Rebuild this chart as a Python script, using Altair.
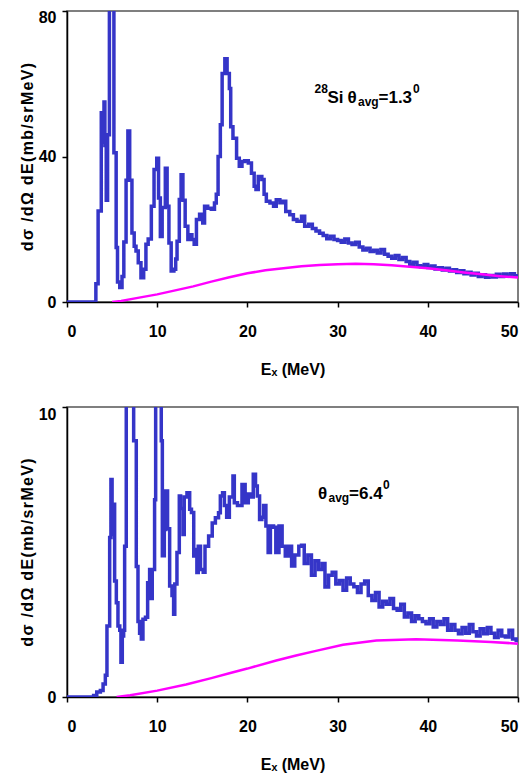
import altair as alt
import pandas as pd

FONT = "Liberation Sans, Arial, sans-serif"
BLUE = "#3535c8"
MAGENTA = "#ff00ff"

# ---------------- top panel (28Si, 1.3 deg) ----------------
top_blue_E = [0, 3.2, 3.45, 3.8, 3.95, 4.1, 4.2, 4.35, 4.5, 4.7, 5.2, 5.45, 5.6, 5.85, 6.1, 6.3,
              6.55, 6.75, 6.95, 7.2, 7.45, 7.65, 7.9, 8.2, 8.5, 8.75, 9.0, 9.35, 9.65, 9.95, 10.15,
              10.35, 10.55, 10.9, 11.1, 11.3, 11.55, 11.85, 12.05, 12.2, 12.45, 12.65, 12.85, 13.1,
              13.4, 13.65, 13.85, 14.1, 14.35, 14.7, 15.05, 15.25, 15.6, 16.0, 16.35, 16.55, 16.75,
              17.0, 17.2, 17.5, 17.75, 18.0, 18.15, 18.4, 18.8, 19.1, 19.4, 19.7, 20.1, 20.45, 20.75,
              20.95, 21.2, 21.6, 21.85, 22.1, 22.5, 22.9, 23.2, 23.6, 23.95, 24.25, 24.7, 25.1, 25.5,
              26.0, 26.35, 26.8, 27.2, 27.6, 28.0, 28.4, 28.8, 29.2, 29.6, 30.0, 30.4, 30.8, 31.2,
              31.6, 32.0, 32.4, 32.8, 33.2, 33.6, 34.0, 34.4, 34.8, 35.2, 35.6, 36.0, 36.4, 36.8,
              37.2, 37.6, 38.0, 38.4, 38.8, 39.2, 39.6, 40.0, 40.4, 40.8, 41.2, 41.6, 42.0, 42.4,
              42.8, 43.2, 43.6, 44.0, 44.4, 44.8, 45.2, 45.6, 46.0, 46.4, 46.8, 47.2, 47.6, 48.0,
              48.4, 48.8, 49.2, 49.6, 50.0]
top_blue_v = [0, 5, 25, 52, 44, 55, 43, 28, 46, 95, 41, 15, 5.5, 4, 7, 16.5,
              33.5, 47, 33.5, 19, 15.3, 14, 10.8, 6.7, 9, 15.9, 17.3, 26.3, 36.4, 39.5, 28.6,
              18, 26, 36.8, 26.3, 16.2, 8.5, 9, 11.8, 16.7, 28.2, 35, 28, 20.8,
              17.2, 18.5, 17.2, 15.9, 22.7, 24.1, 21.7, 26.3, 25.8, 25.5, 27.2, 29.6, 40,
              48.7, 62.8, 66.9, 62.8, 58.7, 48.2, 45, 39.5, 37.3, 38.6, 38.8, 38.2, 35.4, 31.8,
              30.9, 34.5, 33.7, 29.6, 27.7, 27.2, 26.3, 28.1, 27.3, 27.7, 24.9, 24, 22.7, 22.2,
              23.6, 20.8, 21.4, 20.2, 19.5, 18.9, 18.3, 17.4, 18.1, 17.2, 16.9, 16.4, 17.3, 16.2,
              15.8, 16.4, 15.1, 14.3, 14.8, 13.9, 14.2, 13.5, 14.4, 13.1, 12.6, 12.0, 12.8, 11.7,
              12.2, 11.1, 10.4, 10.9, 10.0, 9.7, 10.3, 9.5, 9.9, 9.1, 9.4, 8.8, 9.3, 8.5,
              8.9, 8.1, 8.6, 7.8, 8.2, 7.4, 7.9, 7.0, 7.5, 6.8, 7.3, 6.9, 7.6, 7.0,
              7.7, 7.1, 7.8, 7.2, 7.4]
top_mag_E = [5.0, 6, 8, 10, 12, 14, 16, 18, 20, 22, 24, 26, 28, 30, 32, 34, 36, 38, 40, 42, 44, 46, 48, 50]
top_mag_v = [0, 0.3, 1.2, 2.1, 3.2, 4.3, 5.6, 6.8, 7.9, 8.7, 9.3, 9.8, 10.2, 10.4, 10.5, 10.4,
             10.1, 9.7, 9.3, 8.7, 8.1, 7.6, 7.1, 6.7]

# ---------------- bottom panel (6.4 deg) ----------------
bot_blue_E = [0, 2.95, 3.3, 3.7, 4.0, 4.25, 4.43, 4.73, 4.87, 5.0, 5.08, 5.17, 5.28, 5.47, 5.65,
              5.85, 5.98, 6.13, 6.28, 6.39, 6.57, 7.39, 7.68, 7.87, 8.05, 8.24, 8.42, 8.7, 8.94,
              9.16, 9.31, 9.45, 9.71, 9.83, 10.45, 10.57, 10.79, 10.94, 11.15, 11.38, 11.64,
              11.82, 11.95, 12.19, 12.45, 12.6, 12.86, 13.0, 13.3, 13.6, 13.8, 14.05,
              14.2, 14.4, 14.55, 14.8, 15.1, 15.3, 15.7, 16.1, 16.45, 16.8, 17.0, 17.25, 17.45,
              17.7, 18.0, 18.4, 18.55, 18.9, 19.4, 19.75, 20.1, 20.4, 20.65, 20.9, 21.1, 21.35,
              21.6, 21.8, 22.05, 22.3, 22.55, 22.9, 23.15, 23.5, 23.85, 24.2, 24.55, 24.9, 25.25,
              25.7, 26.0, 26.3, 26.7, 27.1, 27.5, 27.9, 28.3, 28.6, 29.0, 29.4, 29.8, 30.2, 30.6,
              31.0, 31.4, 31.8, 32.2, 32.6, 33.0, 33.4, 33.8, 34.2, 34.6, 35.0, 35.4, 35.8, 36.2,
              36.6, 37.0, 37.4, 37.8, 38.2, 38.6, 39.0, 39.4, 39.8, 40.2, 40.6, 41.0, 41.4, 41.8,
              42.2, 42.6, 43.0, 43.4, 43.8, 44.2, 44.6, 45.0, 45.4, 45.8, 46.2, 46.6, 47.0, 47.4,
              47.8, 48.2, 48.6, 49.0, 49.4, 49.8, 50.0]
bot_blue_v = [0, 0.05, 0.17, 0.22, 0.45, 0.75, 2.45, 5.5, 7.5, 6.6, 5.6, 6.65, 4.0, 3.25, 2.45,
              2.3, 1.2, 2.1, 2.3, 5.2, 12, 8.84, 4.5, 2.6, 2.2, 2.0, 2.68, 2.75, 3.94,
              4.4, 3.4, 4.4, 6.8, 12, 8.84, 4.87, 5.78, 7.1, 5.8, 3.83, 3.5,
              2.85, 3.9, 4.98, 6.93, 6.5, 5.6, 6.9, 7.04, 6.47, 6.36, 4.86,
              5.09, 4.29, 5.2, 4.4, 4.3, 5.2, 5.55, 6.0, 6.18, 6.35, 6.93, 7.04, 6.6,
              6.2, 6.9, 7.62, 6.7, 6.6, 7.33, 6.7, 7.0, 6.9, 7.68, 7.28, 6.93, 6.12,
              6.2, 6.6, 5.9, 4.98, 5.9, 5.85, 4.98, 5.9, 5.2, 4.86, 5.2, 4.52, 4.9,
              5.2, 5.23, 4.6, 4.9, 4.2, 4.7, 4.4, 4.6, 3.79, 4.2, 4.3, 3.9, 4.02, 3.68,
              4.1, 3.9, 3.8, 3.6, 3.9, 4.0, 3.5, 3.33, 3.6, 3.1, 3.3, 3.2, 3.4, 3.05,
              2.99, 3.2, 2.76, 2.9, 2.6, 2.8, 2.7, 2.6, 2.53, 2.7, 2.41, 2.6, 2.5, 2.7,
              2.3, 2.5, 2.3, 2.18, 2.4, 2.2, 2.5, 2.25, 2.1, 2.35, 2.18, 2.4, 2.2, 2.05,
              2.3, 2.1, 2.07, 2.3, 2.0, 1.95, 2.0]
bot_mag_E = [5.5, 7, 10, 13.2, 16, 18, 20, 23.2, 25.4, 27.6, 30.6, 34.3, 38.7, 43.3, 47, 50]
bot_mag_v = [0, 0.06, 0.22, 0.43, 0.65, 0.82, 0.98, 1.26, 1.43, 1.59, 1.8, 1.95, 1.99, 1.95, 1.9, 1.84]

x_ticks = [0, 10, 20, 30, 40, 50]
top_y_ticks = [0, 40, 80]
bot_y_ticks = [0, 10]

x_title = "Eₓ (MeV)"
y_title = "\u200a".join(list("dσ /dΩ dE(mb/srMeV)"))

# annotation pieces: (text, fontSize, dx, dy)
top_ann_pos = (27.44, 54.6)
top_ann = [("28", 12, 0, -10), ("Si", 17, 13, 0), ("θ", 17, 33, 0), ("avg", 12, 43.5, 3),
           ("=1.3", 17, 64, 0), ("0", 12, 98.5, -10)]
bot_ann_pos = (27.83, 6.84)
bot_ann = [("θ", 17, 0, 0), ("avg", 12, 10.5, 3), ("=6.4", 17, 31, 0), ("0", 12, 65, -10)]


def panel(bE, bv, mE, mv, ymax, yticks, w, h, ann_pos, ann, top_label_shift):
    xenc = alt.X("E:Q", scale=alt.Scale(domain=[0, 50], nice=False),
                 axis=alt.Axis(values=x_ticks, title=x_title, format="d"))
    yenc = alt.Y("v:Q", scale=alt.Scale(domain=[0, ymax], nice=False),
                 axis=alt.Axis(values=yticks, title=y_title, format="d",
                               labelOffset={"condition": {"test": f"datum.value == {ymax}",
                                                          "value": top_label_shift},
                                            "value": 0}))
    blue = alt.Chart(pd.DataFrame({"E": bE, "v": bv})).mark_line(
        color=BLUE, strokeWidth=3.5, interpolate="step-after", clip=True
    ).encode(x=xenc, y=yenc)
    mag = alt.Chart(pd.DataFrame({"E": mE, "v": mv})).mark_line(
        color=MAGENTA, strokeWidth=2.5, clip=True
    ).encode(x="E:Q", y="v:Q")
    anchor = pd.DataFrame({"E": [ann_pos[0]], "v": [ann_pos[1]]})
    texts = []
    for t, s, dx, dy in ann:
        texts.append(alt.Chart(anchor).mark_text(
            text=t, fontSize=s, dx=dx, dy=dy, align="left", baseline="alphabetic",
            font=FONT, fontWeight="bold", color="black"
        ).encode(x="E:Q", y="v:Q"))
    return alt.layer(blue, mag, *texts).properties(width=w, height=h)


top = panel(top_blue_E, top_blue_v, top_mag_E, top_mag_v, 80, top_y_ticks, 451, 291,
            top_ann_pos, top_ann, 6)
bot = panel(bot_blue_E, bot_blue_v, bot_mag_E, bot_mag_v, 10, bot_y_ticks, 451, 290,
            bot_ann_pos, bot_ann, 7)

chart = alt.vconcat(top, bot, spacing=27).properties(
    padding={"left": 10, "top": 0, "right": 0, "bottom": 0}
).configure_view(
    stroke="#555555", strokeWidth=1.5
).configure_axis(
    grid=False, domainColor="black", domainWidth=1.5, tickColor="black", tickWidth=1.5,
    tickSize=5, labelFont=FONT, labelFontWeight="bold", labelFontSize=16, labelColor="black",
    titleFont=FONT, titleFontWeight="bold", titleFontSize=16, titleColor="black"
).configure_axisX(
    labelPadding=16, titlePadding=22
).configure_axisY(
    labelPadding=6, titlePadding=3
)

chart.save("out.html", embed_options={"renderer": "svg", "actions": False})
